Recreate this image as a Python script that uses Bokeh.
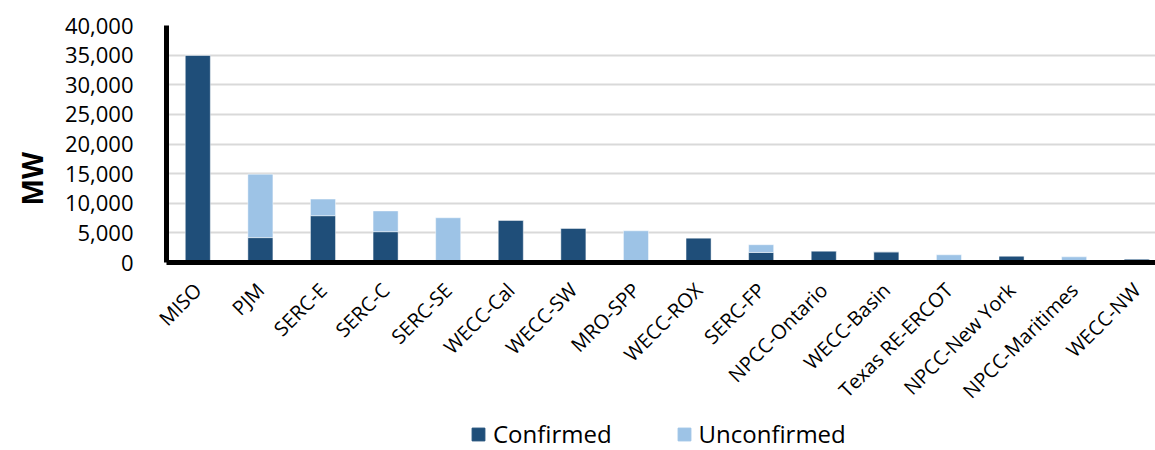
import math
from bokeh.plotting import figure
from bokeh.layouts import column
from bokeh.models import ColumnDataSource, Range1d, FixedTicker, NumeralTickFormatter, Title
from bokeh.embed import file_html
from bokeh.resources import INLINE

categories = ["MISO", "PJM", "SERC-E", "SERC-C", "SERC-SE", "WECC-Cal", "WECC-SW",
              "MRO-SPP", "WECC-ROX", "SERC-FP", "NPCC-Ontario", "WECC-Basin",
              "Texas RE-ERCOT", "NPCC-New York", "NPCC-Maritimes", "WECC-NW"]
confirmed = [35000, 4200, 7900, 5200, 0, 7150, 5800, 0, 4150, 1700, 1950, 1800, 0, 1100, 0, 600]
unconfirmed = [0, 10700, 2800, 3500, 7550, 0, 0, 5350, 0, 1300, 0, 0, 1300, 0, 950, 0]
series_names = ["Confirmed", "Unconfirmed"]
series_colors = ["#1F4E79", "#9DC3E6"]
y_ticks = [0, 5000, 10000, 15000, 20000, 25000, 30000, 35000, 40000]

source = ColumnDataSource(dict(
    x=list(range(len(categories))),
    Confirmed=confirmed,
    Unconfirmed=unconfirmed,
))

p = figure(width=1155, height=417,
           x_range=Range1d(-0.5, 15.3), y_range=Range1d(0, 40000),
           output_backend="svg", toolbar_location=None,
           min_border_left=166, min_border_right=0, min_border_top=25,
           min_border_bottom=155)
p.outline_line_color = None
p.background_fill_color = "white"
p.border_fill_color = "white"

p.vbar_stack(series_names, x="x", width=0.4, color=series_colors, source=source,
             line_color="white", line_alpha=0.45, line_width=1)

# y axis
yax = p.yaxis[0]
yax.ticker = FixedTicker(ticks=y_ticks)
yax.formatter = NumeralTickFormatter(format="0,0")
yax.major_label_text_font = "Open Sans"
yax.major_label_text_font_size = "22px"
yax.major_label_text_color = "black"
yax.major_label_standoff = 33
yax.major_tick_line_color = None
yax.minor_tick_line_color = None
yax.major_tick_out = 0
yax.major_tick_in = 0
yax.axis_line_color = "black"
yax.axis_line_width = 5

# x axis
xax = p.xaxis[0]
xax.ticker = FixedTicker(ticks=list(range(len(categories))))
xax.major_label_overrides = {i: c for i, c in enumerate(categories)}
xax.major_label_orientation = math.pi / 4
xax.major_label_text_font = "Open Sans"
xax.major_label_text_font_size = "20px"
xax.major_label_text_color = "black"
xax.major_label_standoff = 24
xax.major_tick_line_color = None
xax.minor_tick_line_color = None
xax.major_tick_out = 0
xax.major_tick_in = 0
xax.axis_line_color = "black"
xax.axis_line_width = 5

p.xgrid.visible = False
p.ygrid.ticker = FixedTicker(ticks=y_ticks)
p.ygrid.grid_line_color = "#D9D9D9"
p.ygrid.grid_line_width = 2

p.add_layout(Title(text="MW", align="left", offset=57, standoff=21,
                   text_font="Open Sans", text_font_style="bold",
                   text_font_size="28px", text_color="black"), "left")

# legend strip: its bars lie below its own y range, so only the legend shows
pl = figure(width=1155, height=33, x_range=Range1d(-0.5, 15.3), y_range=Range1d(40000, 80000),
            output_backend="svg", toolbar_location=None,
            x_axis_location=None, y_axis_location=None,
            min_border=0)
pl.outline_line_color = None
pl.background_fill_alpha = 0
pl.border_fill_alpha = 0
pl.grid.visible = False
for name, col in zip(series_names, series_colors):
    pl.vbar(x="x", top=name, width=0.4, fill_color=col, line_color=col,
            source=source, legend_label=name)

lg = pl.legend[0]
lg.orientation = "horizontal"
lg.location = (304, 0)
lg.padding = 0
lg.margin = 0
lg.spacing = 64
lg.label_standoff = 7
lg.glyph_width = 16
lg.glyph_height = 16
lg.label_text_font = "Open Sans"
lg.label_text_font_size = "24px"
lg.label_text_color = "black"
lg.border_line_color = None
lg.background_fill_alpha = 0

layout = column(p, pl, spacing=0)
open("out.html", "w").write(file_html(layout, INLINE))
